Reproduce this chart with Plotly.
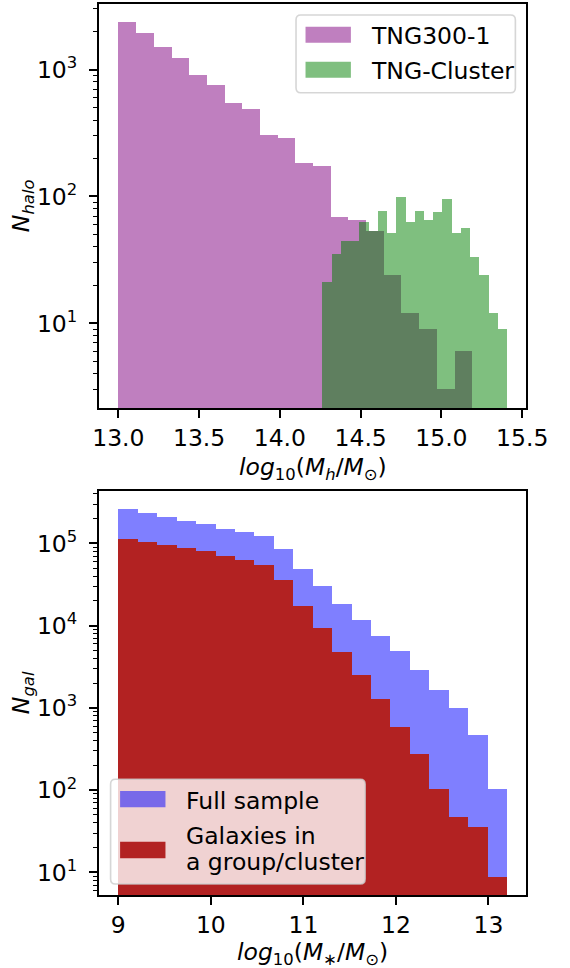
import numpy as np
import plotly.graph_objects as go

# ---------------- data ----------------
# Top panel: halo mass function, log10(Mh/Msun)
halo_tng300_range = (13.0, 15.19)
halo_tng300_counts = [2340, 1920, 1500, 1230, 900, 750, 545, 490, 305, 285,
                      181, 172, 68, 65, 53, 24, 12, 9, 3, 6]
halo_cluster_range = (14.263, 15.406)
halo_cluster_counts = [21, 35, 44, 44, 62, 53, 77, 51, 99, 62,
                       77, 65, 75, 95, 51, 56, 33, 24, 12, 9]

# Bottom panel: galaxy stellar mass function, log10(M*/Msun)
gal_range = (9.0, 13.2)
gal_full_counts = [261000, 235000, 211000, 190000, 173000, 151000, 137000, 125000,
                   85300, 49200, 30300, 18700, 11900, 7630, 4910, 2940, 1650,
                   1015, 478, 105]
gal_group_counts = [113000, 105000, 95500, 88600, 80700, 70200, 62800, 55600,
                    35900, 17500, 9440, 4820, 2560, 1280, 592, 281, 105,
                    47.6, 36, 8.9]

halo_xticks = [13.0, 13.5, 14.0, 14.5, 15.0, 15.5]
gal_xticks = [9, 10, 11, 12, 13]
halo_yticks = [10, 100, 1000]
gal_yticks = [10, 100, 1000, 10000, 100000]

labels_top = ["TNG300-1", "TNG-Cluster"]
labels_bottom = ["Full sample", "Galaxies in", "a group/cluster"]

# ---------------- helpers ----------------
W, H = 570, 968
FONT = "DejaVu Sans"
FS = 23.5


def px(p):
    return p / W


def py(p):
    return 1 - p / H


def hist_bars(rng, counts):
    n = len(counts)
    edges = np.linspace(rng[0], rng[1], n + 1)
    centers = 0.5 * (edges[:-1] + edges[1:])
    widths = np.diff(edges)
    return centers, widths


def log_range(vals):
    lo, hi = np.log10(min(vals)), np.log10(max(vals))
    m = 0.05 * (hi - lo)
    return [lo - m, hi + m]


def lin_range(lo, hi):
    m = 0.05 * (hi - lo)
    return [lo - m, hi + m]


def sup(v):
    e = int(round(np.log10(v)))
    return "10<sup>%d</sup>" % e


minor_vals = [k * 10 ** d for d in range(0, 6) for k in range(2, 10)]

fig = go.Figure()

# top panel
c, w = hist_bars(halo_tng300_range, halo_tng300_counts)
fig.add_trace(go.Bar(x=c, y=halo_tng300_counts, width=w, name=labels_top[0],
                     marker=dict(color="rgba(128,0,128,0.5)", line=dict(width=0)),
                     xaxis="x", yaxis="y"))
c, w = hist_bars(halo_cluster_range, halo_cluster_counts)
fig.add_trace(go.Bar(x=c, y=halo_cluster_counts, width=w, name=labels_top[1],
                     marker=dict(color="rgba(0,128,0,0.5)", line=dict(width=0)),
                     xaxis="x", yaxis="y"))

# bottom panel
c, w = hist_bars(gal_range, gal_full_counts)
fig.add_trace(go.Bar(x=c, y=gal_full_counts, width=w, name=labels_bottom[0],
                     marker=dict(color="rgba(0,0,255,0.5)", line=dict(width=0)),
                     xaxis="x2", yaxis="y2"))
fig.add_trace(go.Bar(x=c, y=gal_group_counts, width=w, name="Galaxies in a group/cluster",
                     marker=dict(color="#B22222", line=dict(width=0)),
                     xaxis="x2", yaxis="y2"))

LW = 1.8
common = dict(showline=True, linecolor="black", linewidth=LW, mirror=True,
              ticks="outside", ticklen=8, tickwidth=LW, tickcolor="black",
              showgrid=False, zeroline=False,
              tickfont=dict(family=FONT, size=FS, color="black"))

xdom = [px(97.7), px(547.3)]
top_y = [py(408), py(4.3)]
bot_y = [py(895), py(490.7)]

all_halo = halo_tng300_counts + halo_cluster_counts
all_gal = gal_full_counts + gal_group_counts

fig.update_layout(
    width=W, height=H,
    margin=dict(l=0, r=0, t=0, b=0),
    paper_bgcolor="white", plot_bgcolor="white",
    barmode="overlay", bargap=0,
    showlegend=False,
    font=dict(family=FONT, size=FS, color="black"),
    xaxis=dict(domain=xdom, anchor="y",
               range=lin_range(min(halo_tng300_range[0], halo_cluster_range[0]),
                               max(halo_tng300_range[1], halo_cluster_range[1])),
               tickvals=halo_xticks, ticktext=["%.1f" % t for t in halo_xticks],
               ticklabelstandoff=0, **common),
    yaxis=dict(domain=top_y, anchor="x", type="log", range=log_range(all_halo),
               tickvals=halo_yticks, ticktext=[sup(v) for v in halo_yticks],
               ticklabelstandoff=7,
               minor=dict(tickvals=minor_vals, ticks="outside", ticklen=4.5,
                          tickwidth=1.3, tickcolor="black"),
               **common),
    xaxis2=dict(domain=xdom, anchor="y2",
                range=lin_range(gal_range[0], gal_range[1]),
                tickvals=gal_xticks, ticktext=[str(t) for t in gal_xticks],
                ticklabelstandoff=0, **common),
    yaxis2=dict(domain=bot_y, anchor="x2", type="log", range=log_range(all_gal),
                tickvals=gal_yticks, ticktext=[sup(v) for v in gal_yticks],
                ticklabelstandoff=7,
                minor=dict(tickvals=minor_vals, ticks="outside", ticklen=4.5,
                           tickwidth=1.3, tickcolor="black"),
                **common),
)


def rrect_path(x0, y0, x1, y1, r):
    # pixel coords (top-left origin) -> paper path with rounded corners
    rx, ry = r / W, r / H
    X0, X1 = px(x0), px(x1)
    Y0, Y1 = py(y1), py(y0)  # Y0 bottom, Y1 top
    return ("M %f,%f L %f,%f Q %f,%f %f,%f L %f,%f Q %f,%f %f,%f "
            "L %f,%f Q %f,%f %f,%f L %f,%f Q %f,%f %f,%f Z") % (
        X0 + rx, Y0, X1 - rx, Y0, X1, Y0, X1, Y0 + ry,
        X1, Y1 - ry, X1, Y1, X1 - rx, Y1,
        X0 + rx, Y1, X0, Y1, X0, Y1 - ry,
        X0, Y0 + ry, X0, Y0, X0 + rx, Y0)


def rect(x0, y0, x1, y1, color):
    return dict(type="rect", xref="paper", yref="paper", layer="above",
                x0=px(x0), x1=px(x1), y0=py(y1), y1=py(y0),
                fillcolor=color, line=dict(width=0))


shapes = []
# top legend
shapes.append(dict(type="path", xref="paper", yref="paper", layer="above",
                   path=rrect_path(305, 15, 535.7, 92.7, 5),
                   fillcolor="rgba(255,255,255,0.8)",
                   line=dict(color="rgba(204,204,204,0.8)", width=1.6)))
shapes.append(rect(315, 26.7, 362.7, 42.7, "rgba(128,0,128,0.5)"))
shapes.append(rect(315, 61.7, 362.7, 77.7, "rgba(0,128,0,0.5)"))
# bottom legend
shapes.append(dict(type="path", xref="paper", yref="paper", layer="above",
                   path=rrect_path(110, 779.3, 377.7, 884, 5),
                   fillcolor="rgba(255,255,255,0.8)",
                   line=dict(color="rgba(204,204,204,0.8)", width=1.6)))
shapes.append(rect(120, 791, 167.7, 807.3, "rgba(0,0,255,0.5)"))
shapes.append(rect(120, 841.7, 167.7, 858.3, "#B22222"))
fig.update_layout(shapes=shapes)


def text(x, y, s, **kw):
    d = dict(xref="paper", yref="paper", x=px(x), y=py(y), text=s,
             showarrow=False, font=dict(family=FONT, size=FS, color="black"),
             xanchor="left", yanchor="middle")
    d.update(kw)
    return d


ann = [
    text(381.7, 36, labels_top[0]),
    text(381.7, 71.5, labels_top[1]),
    text(186.7, 800.5, labels_bottom[0]),
    text(186.7, 835.5, labels_bottom[1]),
    text(186.7, 861.5, labels_bottom[2]),
    # axis titles
    text(322.5, 468, "<i>log</i><sub>10</sub>(<i>M</i><sub><i>h</i></sub>/<i>M</i><sub>⊙</sub>)",
         xanchor="center"),
    text(322.5, 953, "<i>log</i><sub>10</sub>(<i>M</i><sub>∗</sub>/<i>M</i><sub>⊙</sub>)",
         xanchor="center"),
    text(17, 206, "<i>N</i><sub><i>halo</i></sub>", xanchor="center", textangle=-90),
    text(17, 693, "<i>N</i><sub><i>gal</i></sub>", xanchor="center", textangle=-90),
]
fig.update_layout(annotations=ann)

fig.write_html("out.html",
               config={"displayModeBar": False},
               post_script="document.body.style.margin='0';"
                           "document.body.style.overflow='hidden';")
